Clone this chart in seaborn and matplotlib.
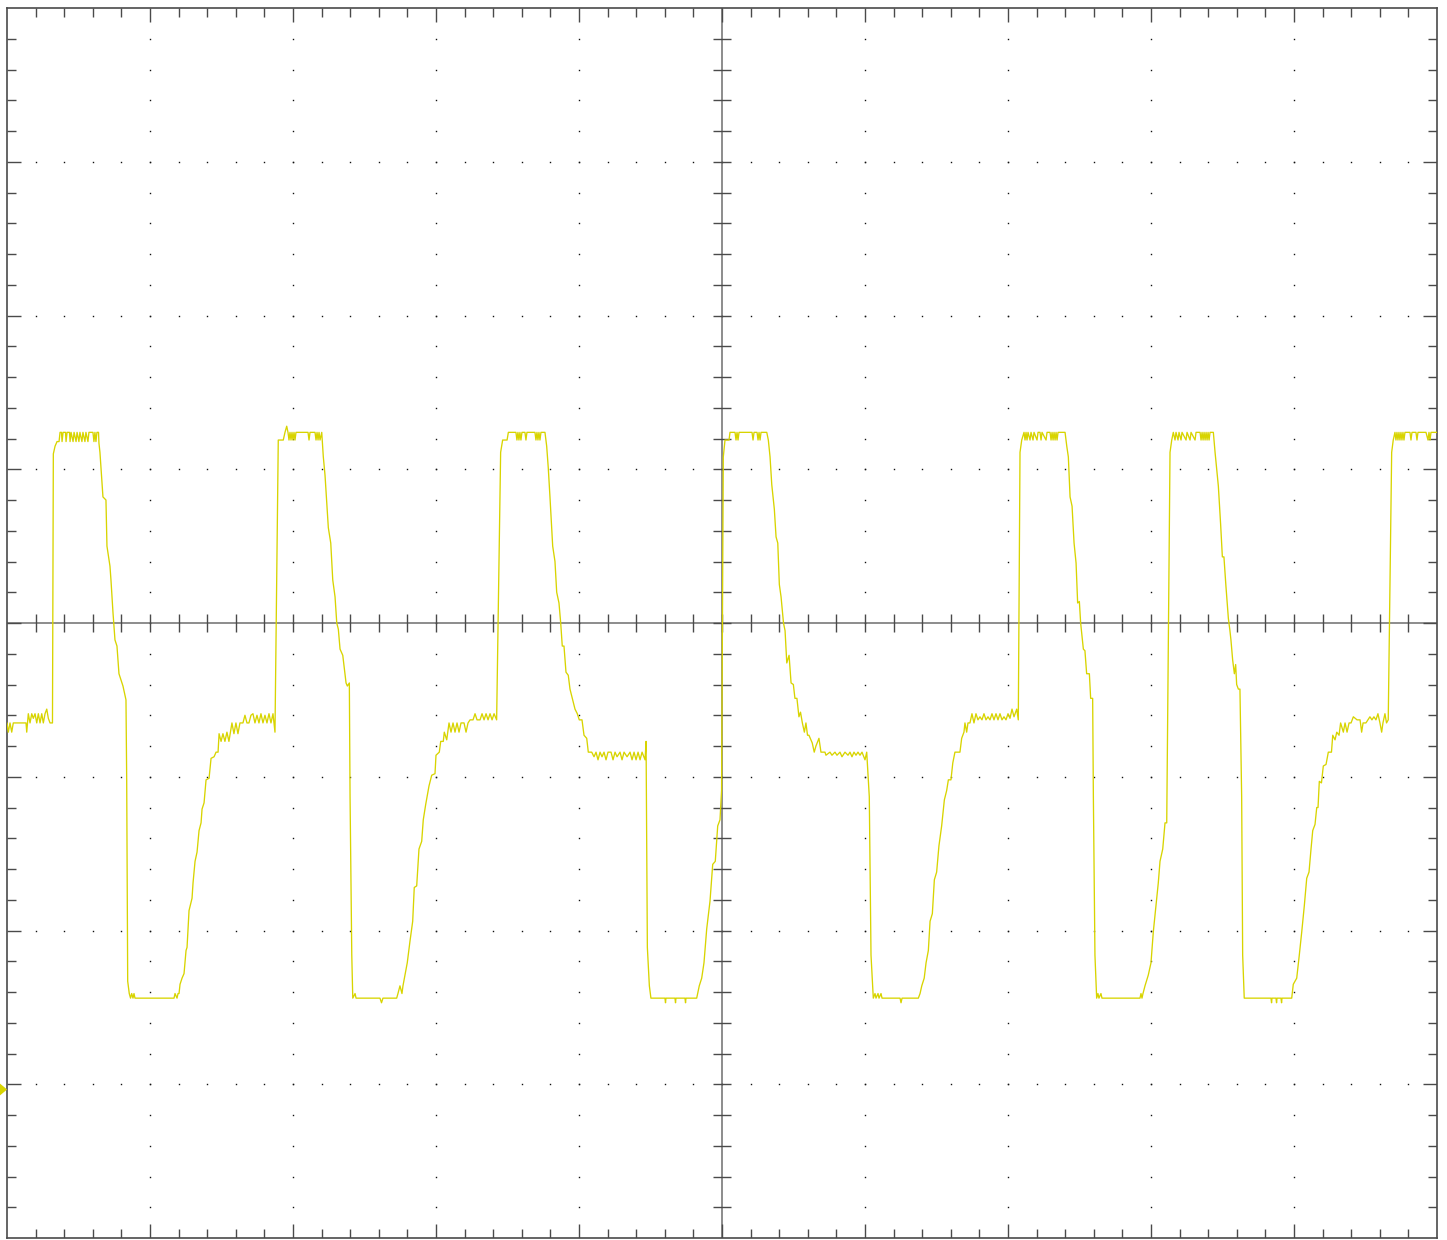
import numpy as np
import pandas as pd
import matplotlib
matplotlib.use("Agg")
import matplotlib.pyplot as plt
from matplotlib.collections import LineCollection
import seaborn as sns

# ---------------- data (time in divisions, voltage in divisions) ----------------
lead_in = [(0.000,-0.65),(0.009,-0.71),(0.021,-0.65),(0.033,-0.71),(0.044,-0.65),(0.091,-0.65),
           (0.133,-0.65),(0.138,-0.71),(0.149,-0.59),(0.161,-0.65),(0.173,-0.59),(0.184,-0.62),
           (0.196,-0.59),(0.208,-0.65),(0.219,-0.59),(0.231,-0.65),(0.243,-0.59),(0.254,-0.65),
           (0.266,-0.59),(0.278,-0.56),(0.289,-0.62),(0.301,-0.65),(0.318,-0.65)]

pulse1 = [(0.324,1.10),(0.336,1.15),(0.350,1.18),(0.364,1.18),
          (0.371,1.24),(0.381,1.24),(0.385,1.18),(0.392,1.24),(0.409,1.24),(0.413,1.18),(0.420,1.24),
          (0.437,1.24),(0.441,1.18),(0.448,1.24),(0.462,1.18),(0.469,1.24),(0.483,1.18),(0.490,1.24),
          (0.503,1.18),(0.510,1.24),(0.524,1.18),(0.531,1.24),(0.545,1.18),(0.552,1.24),(0.566,1.18),
          (0.573,1.24),(0.601,1.24),(0.608,1.18),(0.615,1.24),(0.622,1.18),(0.629,1.24),(0.640,1.24),
          (0.643,1.17),(0.650,1.11),(0.671,0.82),(0.692,0.80),(0.699,0.50),(0.720,0.37),(0.727,0.28),
          (0.741,0.07),(0.755,-0.11),(0.769,-0.15),(0.783,-0.33),(0.811,-0.41),(0.825,-0.47),(0.832,-0.50),
          (0.837,-1.02),(0.844,-2.33),(0.855,-2.41),(0.864,-2.44),(0.872,-2.41),(0.881,-2.44),(0.888,-2.41),
          (0.895,-2.44),(1.168,-2.44),(1.175,-2.41),(1.189,-2.44),(1.196,-2.41),(1.203,-2.41),
          (1.210,-2.35),(1.224,-2.31),(1.238,-2.28),(1.252,-2.13),(1.259,-2.11),(1.273,-1.87),(1.294,-1.79),
          (1.301,-1.69),(1.315,-1.55),(1.329,-1.49),(1.343,-1.35),(1.357,-1.30),(1.364,-1.21),(1.378,-1.17),
          (1.392,-1.02),(1.413,-1.01),(1.427,-0.88),(1.448,-0.87),(1.462,-0.84),(1.476,-0.84),(1.483,-0.72),
          (1.497,-0.77),(1.510,-0.72),(1.524,-0.77),(1.538,-0.71),(1.552,-0.77),(1.573,-0.65),(1.587,-0.72),
          (1.601,-0.65),(1.615,-0.72),(1.629,-0.65),(1.650,-0.65),(1.664,-0.60),(1.678,-0.65),(1.692,-0.65),
          (1.706,-0.60),(1.720,-0.59),(1.734,-0.65),(1.748,-0.60),(1.762,-0.65),(1.776,-0.59),(1.790,-0.65),
          (1.804,-0.60),(1.818,-0.65),(1.832,-0.59),(1.846,-0.65),(1.860,-0.59),(1.874,-0.71)]

pulse2 = [(1.897,1.19),(1.932,1.19),(1.944,1.24),(1.956,1.28),(1.965,1.24),(1.972,1.19),(1.979,1.24),
          (1.986,1.19),(1.993,1.24),(2.000,1.19),(2.007,1.24),(2.014,1.19),(2.021,1.24),(2.105,1.24),
          (2.112,1.19),(2.119,1.24),(2.154,1.24),(2.161,1.19),(2.168,1.24),(2.175,1.19),(2.182,1.24),
          (2.189,1.19),(2.201,1.24),
          (2.212,1.08),(2.224,0.96),(2.247,0.62),(2.264,0.52),(2.278,0.28),(2.294,0.17),(2.306,0.00),
          (2.317,-0.04),(2.329,-0.17),(2.348,-0.21),(2.371,-0.39),(2.380,-0.41),(2.394,-0.39),
          (2.399,-1.13),(2.411,-2.16),(2.418,-2.44),(2.434,-2.41),(2.441,-2.44),(2.608,-2.44),(2.619,-2.47),
          (2.629,-2.44),(2.725,-2.44),(2.734,-2.41),
          (2.748,-2.36),(2.762,-2.41),(2.769,-2.36),(2.783,-2.29),(2.799,-2.21),(2.818,-2.07),(2.837,-1.94),
          (2.848,-1.72),(2.865,-1.71),(2.881,-1.47),(2.900,-1.42),(2.911,-1.28),(2.928,-1.18),(2.951,-1.06),
          (2.970,-0.99),(2.993,-0.98),(3.000,-0.86),(3.023,-0.84),(3.033,-0.77),(3.051,-0.77),(3.058,-0.71),
          (3.075,-0.76),(3.091,-0.65),(3.105,-0.71),(3.119,-0.65),(3.133,-0.71),(3.147,-0.65),(3.161,-0.71),
          (3.175,-0.65),(3.196,-0.65),(3.210,-0.71),(3.224,-0.65),(3.238,-0.63),(3.259,-0.63),(3.273,-0.59),
          (3.287,-0.63),(3.308,-0.63),(3.322,-0.59),(3.336,-0.63),(3.350,-0.59),(3.364,-0.63),(3.378,-0.59),
          (3.392,-0.63),(3.406,-0.59),(3.424,-0.63)]

pulse3 = [(3.452,1.11),(3.466,1.19),(3.497,1.19),(3.506,1.24),(3.559,1.24),(3.566,1.19),(3.573,1.24),
          (3.580,1.19),(3.587,1.24),(3.594,1.19),(3.601,1.24),(3.622,1.24),(3.629,1.19),(3.636,1.24),
          (3.692,1.24),(3.699,1.19),(3.706,1.24),(3.713,1.19),(3.720,1.24),(3.727,1.19),(3.734,1.24),
          (3.762,1.24),
          (3.774,1.15),(3.785,1.01),(3.797,0.82),(3.816,0.50),(3.832,0.40),(3.844,0.20),(3.860,0.13),
          (3.872,0.00),(3.883,-0.15),(3.895,-0.15),(3.909,-0.32),(3.925,-0.34),(3.937,-0.43),(3.953,-0.49),
          (3.972,-0.56),(3.988,-0.59),(4.002,-0.63),(4.021,-0.63),(4.035,-0.73),(4.054,-0.75),(4.065,-0.84),
          (4.089,-0.84),(4.105,-0.87),(4.119,-0.84),(4.133,-0.89),(4.147,-0.84),(4.161,-0.87),(4.175,-0.84),
          (4.189,-0.89),(4.203,-0.84),(4.224,-0.84),(4.238,-0.89),(4.252,-0.84),(4.266,-0.87),(4.287,-0.84),
          (4.301,-0.89),(4.315,-0.84),(4.336,-0.87),(4.357,-0.84),(4.371,-0.89),(4.385,-0.84),(4.399,-0.89),
          (4.413,-0.84),(4.427,-0.89),(4.441,-0.84),(4.462,-0.89),(4.469,-0.77),
          (4.478,-2.11),(4.492,-2.36),(4.503,-2.44),(4.601,-2.44),(4.605,-2.47),(4.608,-2.44),(4.671,-2.44),
          (4.675,-2.47),(4.678,-2.44),(4.741,-2.44),(4.745,-2.47),(4.748,-2.44),(4.823,-2.44),
          (4.841,-2.36),(4.858,-2.31),(4.874,-2.21),(4.893,-1.99),(4.916,-1.81),(4.935,-1.57),(4.953,-1.55),
          (4.970,-1.32),(4.986,-1.28),(4.997,-1.09)]

pulse4 = [(5.009,1.08),(5.021,1.19),(5.049,1.19),(5.056,1.24),(5.091,1.24),(5.098,1.19),(5.105,1.24),
          (5.112,1.19),(5.119,1.24),(5.210,1.24),(5.217,1.19),(5.224,1.24),(5.245,1.24),(5.252,1.19),
          (5.259,1.24),(5.266,1.19),(5.273,1.24),(5.313,1.24),
          (5.324,1.19),(5.336,1.08),(5.348,0.90),(5.366,0.74),(5.378,0.56),(5.390,0.52),(5.401,0.25),
          (5.413,0.17),(5.430,0.00),(5.441,-0.05),(5.453,-0.26),(5.469,-0.21),(5.483,-0.39),(5.499,-0.40),
          (5.510,-0.49),(5.524,-0.49),(5.538,-0.61),(5.549,-0.58),(5.562,-0.65),(5.576,-0.71),(5.587,-0.65),
          (5.598,-0.73),(5.608,-0.73),(5.631,-0.78),(5.645,-0.84),(5.657,-0.80),(5.678,-0.75),(5.692,-0.84),
          (5.720,-0.84),(5.727,-0.86),(5.755,-0.84),(5.769,-0.86),(5.790,-0.84),(5.804,-0.86),(5.825,-0.84),
          (5.839,-0.87),(5.860,-0.84),(5.881,-0.86),(5.895,-0.84),(5.909,-0.87),(5.923,-0.84),(5.937,-0.86),
          (5.951,-0.84),(5.965,-0.86),(5.979,-0.84),(6.000,-0.89),(6.012,-0.84),
          (6.030,-1.13),(6.042,-2.16),(6.058,-2.44),(6.070,-2.41),(6.077,-2.44),(6.091,-2.41),(6.098,-2.44),
          (6.112,-2.41),(6.119,-2.44),(6.245,-2.44),(6.252,-2.47),(6.259,-2.44),(6.373,-2.44),(6.385,-2.41),
          (6.397,-2.36),(6.414,-2.31),(6.427,-2.21),(6.443,-2.13),(6.455,-1.94),(6.471,-1.89),(6.485,-1.67),
          (6.501,-1.62),(6.517,-1.45),(6.536,-1.32),(6.555,-1.15),(6.571,-1.09),(6.583,-1.02),(6.601,-1.02),
          (6.614,-0.91),(6.629,-0.84),(6.664,-0.84),(6.676,-0.75),(6.692,-0.71),(6.699,-0.65),(6.711,-0.71),
          (6.720,-0.65),(6.734,-0.65),(6.748,-0.59),(6.762,-0.65),(6.776,-0.59),(6.790,-0.63),(6.804,-0.61),
          (6.818,-0.63),(6.832,-0.59),(6.846,-0.63),(6.860,-0.61),(6.874,-0.63),(6.888,-0.59),(6.902,-0.63),
          (6.916,-0.59),(6.930,-0.63),(6.944,-0.59),(6.958,-0.63),(6.972,-0.61),(6.986,-0.63),(7.000,-0.59),
          (7.014,-0.62),(7.028,-0.56),(7.042,-0.61),(7.061,-0.56),(7.072,-0.63)]

pulse5 = [(7.084,1.11),(7.096,1.19),(7.112,1.24),(7.119,1.19),(7.126,1.24),(7.133,1.19),(7.140,1.24),
          (7.154,1.19),(7.161,1.24),(7.175,1.19),(7.182,1.24),(7.203,1.19),(7.210,1.24),(7.224,1.24),
          (7.231,1.19),(7.238,1.24),(7.266,1.19),(7.273,1.24),(7.294,1.24),(7.301,1.19),(7.308,1.24),
          (7.315,1.19),(7.322,1.24),(7.329,1.19),(7.336,1.24),(7.343,1.19),(7.350,1.24),(7.399,1.24),
          (7.411,1.15),(7.422,1.08),(7.434,0.82),(7.448,0.76),(7.462,0.52),(7.476,0.39),(7.487,0.13),
          (7.499,0.14),(7.508,0.00),(7.527,-0.17),(7.538,-0.18),(7.550,-0.33),(7.569,-0.33),(7.578,-0.49),
          (7.592,-0.49),
          (7.597,-1.13),(7.608,-2.16),(7.620,-2.44),(7.629,-2.41),(7.636,-2.44),(7.650,-2.41),(7.657,-2.44),
          (7.923,-2.44),(7.930,-2.41),(7.937,-2.44),(7.944,-2.41),
          (7.958,-2.36),(7.981,-2.29),(8.000,-2.21),(8.016,-2.01),(8.035,-1.84),(8.051,-1.69),(8.063,-1.55),
          (8.082,-1.47),(8.098,-1.30),(8.110,-1.30)]

pulse6 = [(8.133,1.11),(8.145,1.19),(8.156,1.24),(8.168,1.19),(8.175,1.24),(8.189,1.19),(8.196,1.24),
          (8.210,1.19),(8.217,1.24),(8.245,1.19),(8.252,1.24),(8.273,1.19),(8.280,1.24),(8.308,1.19),
          (8.315,1.24),(8.343,1.24),(8.350,1.19),(8.357,1.24),(8.364,1.19),(8.371,1.24),(8.378,1.19),
          (8.385,1.24),(8.392,1.19),(8.399,1.24),(8.406,1.19),(8.413,1.24),(8.436,1.24),
          (8.448,1.11),(8.471,0.89),(8.487,0.64),(8.499,0.43),(8.510,0.43),(8.524,0.24),(8.541,0.03),
          (8.552,-0.05),(8.559,-0.11),(8.571,-0.24),(8.583,-0.33),(8.592,-0.27),(8.599,-0.40),(8.611,-0.43),
          (8.622,-0.43),
          (8.634,-1.13),(8.641,-2.16),(8.652,-2.44),(8.839,-2.44),(8.843,-2.47),(8.846,-2.44),(8.874,-2.44),
          (8.878,-2.47),(8.881,-2.44),(8.909,-2.44),(8.913,-2.47),(8.916,-2.44),(8.984,-2.44),
          (8.995,-2.35),(9.019,-2.31),(9.037,-2.16),(9.054,-2.01),(9.072,-1.84),(9.089,-1.66),(9.105,-1.62),
          (9.119,-1.47),(9.131,-1.35),(9.147,-1.31),(9.159,-1.20),(9.168,-1.20),(9.177,-1.03),(9.192,-1.04),
          (9.205,-0.93),(9.224,-0.92),(9.240,-0.84),(9.262,-0.84),(9.271,-0.73),(9.287,-0.76),(9.299,-0.71),
          (9.315,-0.73),(9.326,-0.65),(9.345,-0.71),(9.357,-0.65),(9.371,-0.71),(9.385,-0.65),(9.399,-0.65),
          (9.415,-0.61),(9.441,-0.63),(9.462,-0.63),(9.473,-0.71),(9.483,-0.65),(9.503,-0.65),(9.517,-0.63),
          (9.531,-0.61),(9.545,-0.63),(9.559,-0.61),(9.573,-0.63),(9.587,-0.59),(9.601,-0.65),(9.613,-0.71),
          (9.622,-0.65),(9.636,-0.59),(9.647,-0.65),(9.659,-0.63)]

pulse7 = [(9.683,1.11),(9.694,1.19),(9.706,1.24),(9.713,1.19),(9.720,1.24),(9.727,1.19),(9.734,1.24),
          (9.741,1.19),(9.748,1.24),(9.755,1.19),(9.762,1.24),(9.769,1.19),(9.776,1.24),(9.811,1.24),
          (9.818,1.19),(9.825,1.24),(9.853,1.24),(9.860,1.19),(9.867,1.24),(9.923,1.24),(9.937,1.19),
          (9.944,1.24),(9.951,1.19),(9.958,1.24),(10.000,1.24)]

ground_level = -3.03          # channel ground reference marker (divisions)
n_hdiv, n_vdiv = 10, 8       # screen divisions
trace_color = "#d8d400"

# ---------------- build data frame ----------------
segments = [lead_in, pulse1, pulse2, pulse3, pulse4, pulse5, pulse6, pulse7]
rows = [p for seg in segments for p in seg]
df = pd.DataFrame(rows, columns=["time", "volts"])

# ---------------- figure ----------------
sns.set_style("white")
W, H = 1447, 1240
fig = plt.figure(figsize=(W / 100, H / 100), dpi=100)
ax = fig.add_axes([7 / W, 2 / H, 1430 / W, 1230 / H])
ax.set_xlim(0, n_hdiv)
ax.set_ylim(-n_vdiv / 2, n_vdiv / 2)
ax.set_xticks([])
ax.set_yticks([])
for s in ax.spines.values():
    s.set_color("#4a4a4a")
    s.set_linewidth(1.2)

# centre cross
ax.axhline(0, color="#8c8c8c", lw=1.4, zorder=1)
ax.axvline(n_hdiv / 2, color="#8c8c8c", lw=1.4, zorder=1)

# dotted graticule
minor_x = np.round(np.arange(0.2, n_hdiv, 0.2), 3)
minor_y = np.round(np.arange(-n_vdiv / 2 + 0.2, n_vdiv / 2, 0.2), 3)
dx, dy = [], []
for gx in range(1, n_hdiv):
    if gx == n_hdiv // 2:
        continue
    dx += [gx] * len(minor_y)
    dy += list(minor_y)
for gy in range(-n_vdiv // 2 + 1, n_vdiv // 2):
    if gy == 0:
        continue
    dx += list(minor_x)
    dy += [gy] * len(minor_x)
ax.plot(dx, dy, ls="none", marker="s", ms=1.0, mew=0, color="#111111", zorder=1)

# tick marks on frame and centre cross
px_x = 1 / 143.0
px_y = 1 / 153.75
segs = []
for x in minor_x:
    major = abs(x - round(x)) < 1e-6
    L = (14 if major else 9) * px_y
    segs.append([(x, n_vdiv / 2), (x, n_vdiv / 2 - L)])
    segs.append([(x, -n_vdiv / 2), (x, -n_vdiv / 2 + L)])
    segs.append([(x, -9 * px_y), (x, 9 * px_y)])
for y in minor_y:
    major = abs(y - round(y)) < 1e-6
    L = (14 if major else 9) * px_x
    segs.append([(0, y), (L, y)])
    segs.append([(n_hdiv, y), (n_hdiv - L, y)])
    segs.append([(n_hdiv / 2 - 9 * px_x, y), (n_hdiv / 2 + 9 * px_x, y)])
ax.add_collection(LineCollection(segs, colors="#4a4a4a", linewidths=1.0, zorder=2))

# trace
sns.lineplot(data=df, x="time", y="volts", sort=False, estimator=None,
             color=trace_color, lw=0.95, ax=ax, zorder=3)
ax.set_xlabel("")
ax.set_ylabel("")

# ground marker
ax.plot([-3.6 * px_x], [ground_level], ls="none",
        marker=[(-0.6, -1), (-0.6, 1), (0.6, 0)], ms=8.6, mew=0,
        color=trace_color, clip_on=False, zorder=4)

fig.savefig("out.png", dpi=100, facecolor="white")
